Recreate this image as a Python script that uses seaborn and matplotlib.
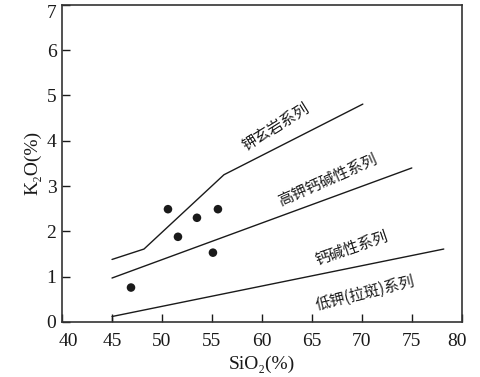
import pandas as pd
import seaborn as sns
import matplotlib.pyplot as plt
from matplotlib.transforms import ScaledTranslation

# boundary lines (SiO2, K2O)
shosh_x = [45, 48.2, 56.2, 70.1]
shosh_y = [1.38, 1.61, 3.25, 4.81]
highk_x = [45, 75]
highk_y = [0.97, 3.40]
calc_x = [45, 78.2]
calc_y = [0.12, 1.61]

# samples
sio2 = [46.9, 50.6, 51.6, 53.5, 55.1, 55.6]
k2o = [0.76, 2.49, 1.88, 2.30, 1.53, 2.49]

series_labels = ['钾玄岩系列', '高钾钙碱性系列', '钙碱性系列', '低钾(拉斑)系列']
label_x = [61.4, 66.6, 69.0, 70.3]
label_y = [4.30, 3.13, 1.62, 0.64]
label_rot = [32, 24, 19, 14]

lines = pd.concat([
    pd.DataFrame({'SiO2': shosh_x, 'K2O': shosh_y, 'line': 'a'}),
    pd.DataFrame({'SiO2': highk_x, 'K2O': highk_y, 'line': 'b'}),
    pd.DataFrame({'SiO2': calc_x, 'K2O': calc_y, 'line': 'c'}),
])
pts = pd.DataFrame({'SiO2': sio2, 'K2O': k2o})

sns.set_style('ticks')
plt.rcParams['font.family'] = ['Liberation Serif', 'DejaVu Serif']

fig = plt.figure(figsize=(4.81, 3.77), dpi=100)
ax = fig.add_axes([0.129, 0.146, 0.831, 0.841])

sns.lineplot(data=lines, x='SiO2', y='K2O', units='line', estimator=None,
             sort=False, color='#1a1a1a', linewidth=1.0, ax=ax)
ax.plot([45, 45], [0, 0.12], color='#1a1a1a', linewidth=1.0)
sns.scatterplot(data=pts, x='SiO2', y='K2O', color='#1a1a1a', s=38,
                edgecolor='none', ax=ax)

for t, x, y, r in zip(series_labels, label_x, label_y, label_rot):
    ax.text(x, y, t, rotation=r, ha='center', va='center', fontsize=11,
            color='#1a1a1a', rotation_mode='anchor',
            family=['Noto Sans CJK SC', 'DejaVu Sans'])

ax.set_xlim(40, 80)
ax.set_ylim(0, 7)
ax.set_xticks(range(40, 81, 5))
ax.set_yticks(range(0, 8))
ax.tick_params(direction='in', length=6, width=1.0, labelsize=14,
               colors='#1a1a1a')
ax.tick_params(axis='x', pad=8)
ax.tick_params(axis='y', pad=4)
for s in ax.spines.values():
    s.set_linewidth(1.2)
    s.set_color('#333333')
ax.set_xlabel('SiO₂(%)', fontsize=14, color='#1a1a1a', labelpad=4)
ax.set_ylabel('K₂O(%)', fontsize=14, color='#1a1a1a', labelpad=4)

# nudge end labels inside like the original
xl = ax.get_xticklabels()
xl[0].set_transform(xl[0].get_transform() + ScaledTranslation(6 / 100, 0, fig.dpi_scale_trans))
xl[-1].set_transform(xl[-1].get_transform() + ScaledTranslation(-5 / 100, 0, fig.dpi_scale_trans))
yl = ax.get_yticklabels()
yl[-1].set_transform(yl[-1].get_transform() + ScaledTranslation(0, -7 / 100, fig.dpi_scale_trans))

fig.savefig('out.png', dpi=100)
